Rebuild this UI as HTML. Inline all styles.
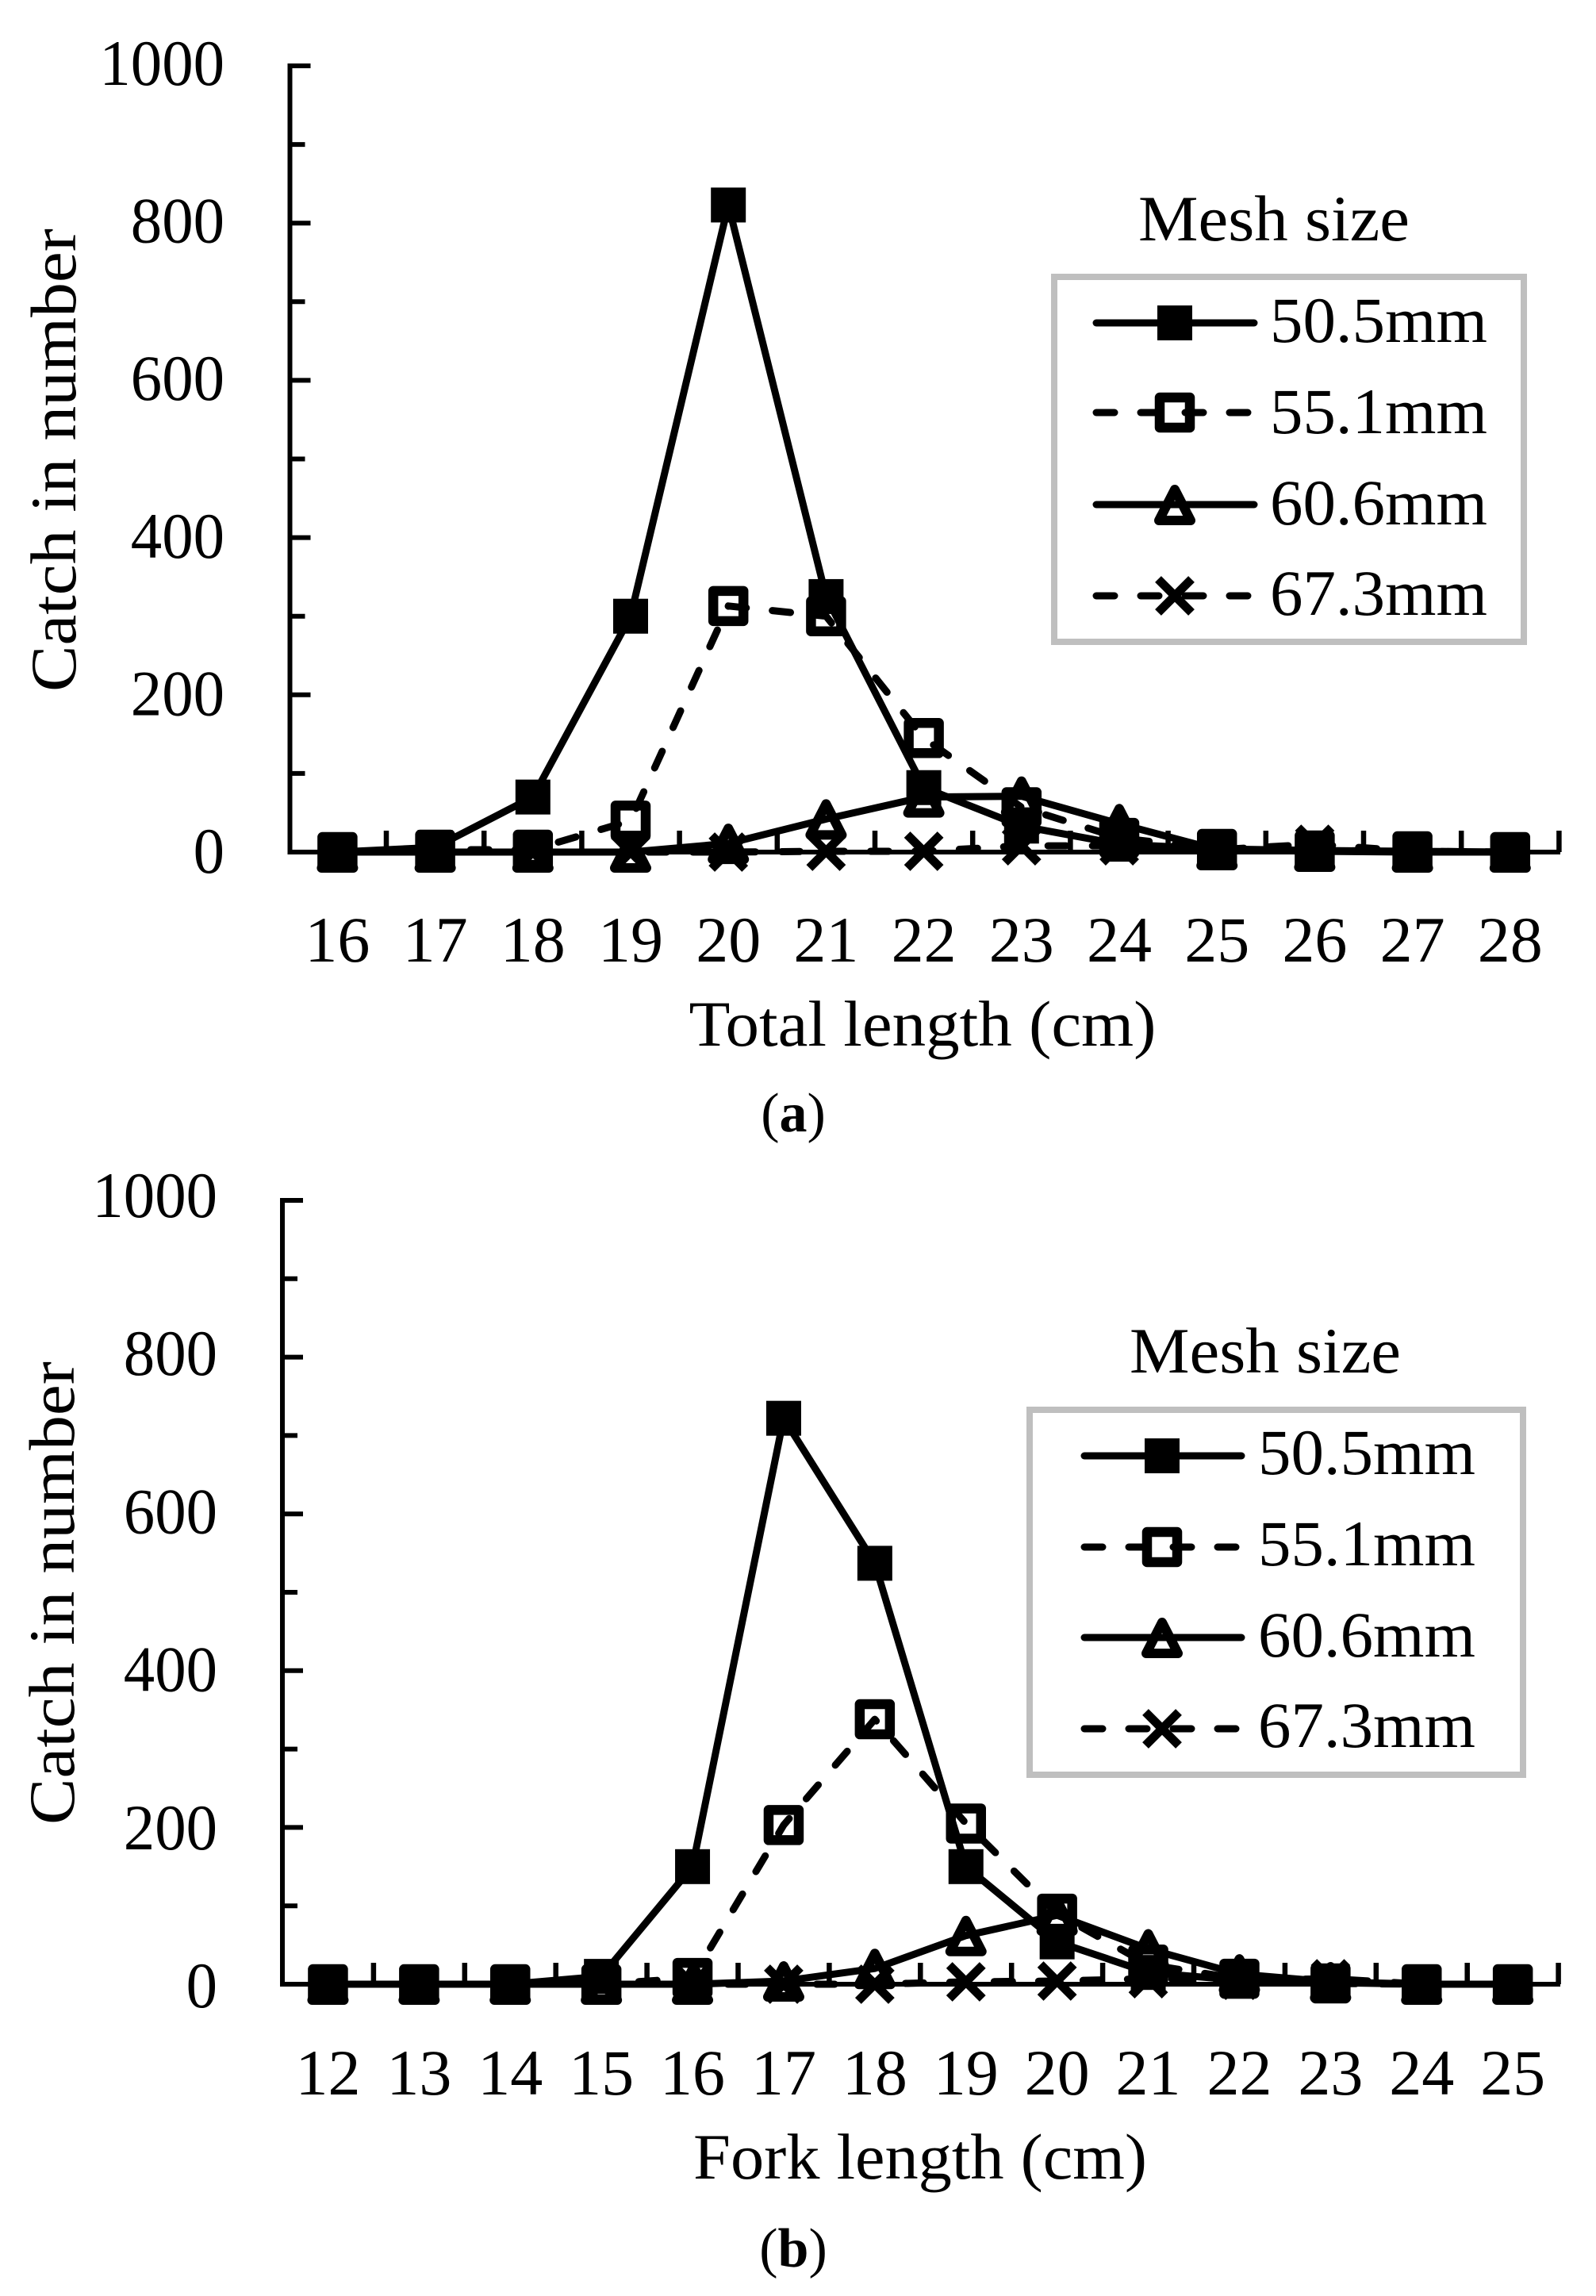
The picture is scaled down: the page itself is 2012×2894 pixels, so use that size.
<!DOCTYPE html>
<html>
<head>
<meta charset="utf-8">
<title>Catch in number by length and mesh size</title>
<style>
html,body{margin:0;padding:0;background:#fff;}
svg{display:block;}
text{font-family:"Liberation Serif",serif;fill:#000;}
</style>
</head>
<body>
<svg id="figure" xmlns="http://www.w3.org/2000/svg" width="2012" height="2894" viewBox="0 0 2012 2894"></svg>
<script>
const categoriesA = [16,17,18,19,20,21,22,23,24,25,26,27,28];
const mesh505A = [0,6,70,300,823,325,82,33,10,4,2,1,0];
const mesh551A = [0,3,3,40,313,300,145,57,18,4,2,1,0];
const mesh606A = [0,0,0,0,11,42,70,71,36,3,1,0,0];
const mesh673A = [0,0,0,0,0,1,1,8,8,3,10,1,0];

const categoriesB = [12,13,14,15,16,17,18,19,20,21,22,23,24,25];
const mesh505B = [0,0,0,10,150,722,537,150,54,15,5,2,0,0];
const mesh551B = [0,0,0,0,8,203,338,205,90,25,7,1,0,0];
const mesh606B = [0,0,0,0,0,4,20,62,88,45,13,3,0,0];
const mesh673B = [0,0,0,0,0,0,0,3,4,7,5,7,0,0];

const yMajorTicks = [0,200,400,600,800,1000];
const yMinorTicks = [100,300,500,700,900];
const legendLabels = ["50.5mm","55.1mm","60.6mm","67.3mm"];
const seriesKinds = ["filled-square","open-square","open-triangle","cross"];

const NS = "http://www.w3.org/2000/svg";
const root = document.getElementById("figure");

function make(parent, tag, attrs) {
  const el = document.createElementNS(NS, tag);
  for (const k in attrs) el.setAttribute(k, attrs[k]);
  parent.appendChild(el);
  return el;
}

function drawMarker(parent, kind, x, y) {
  const g = make(parent, "g", { transform: "translate(" + x + "," + y + ")" });
  
  
  if (kind === "filled-square") {
    make(g, "rect", { x: -22, y: -22, width: 44, height: 44, fill: "#000" });
  } else if (kind === "open-square") {
    make(g, "rect", { x: -19, y: -19, width: 38, height: 38, fill: "none", stroke: "#000", "stroke-width": 12.5, "stroke-linejoin": "round" });
  } else if (kind === "open-triangle") {
    make(g, "path", { d: "M0,-19L20,20L-20,20Z", fill: "none", stroke: "#000", "stroke-width": 12, "stroke-linejoin": "round" });
  } else {
    make(g, "path", { d: "M-21,-21L21,21M21,-21L-21,21", fill: "none", stroke: "#000", "stroke-width": 11 });
  }
}

function styleLine(el, index) {
  el.setAttribute("fill", "none");
  el.setAttribute("stroke", "#000");
  el.setAttribute("stroke-width", "9");
  el.setAttribute("stroke-linecap", "round");
  el.setAttribute("stroke-linejoin", "round");
  if (index % 2 === 1) el.setAttribute("stroke-dasharray", "23 33");
}

function drawText(parent, str, x, y, size, anchor, fit) {
  const t = make(parent, "text", { x: x, y: y, "font-size": size, "text-anchor": anchor });
  if (fit) {
    t.setAttribute("textLength", fit);
    t.setAttribute("lengthAdjust", "spacingAndGlyphs");
  }
  t.textContent = str;
  return t;
}

function drawChart(cfg) {
  const chart = make(root, "g", {});
  
  

  const band = (cfg.bandRight - cfg.bandLeft) / cfg.categories.length;
  const xScale = function (i) { return cfg.bandLeft + (i + 0.5) * band; };
  const yScale = function (v) { return cfg.y0 - (v / 1000) * (cfg.y0 - cfg.y1000); };
  const yLabelScale = function (v) { return cfg.labelBase0 - (v / 1000) * (cfg.labelBase0 - cfg.labelBase1000); };

  // axes
  const axes = make(chart, "g", { stroke: "#000", fill: "none" });
  
  

  const yAxis = make(axes, "line", { x1: cfg.axisLeft, x2: cfg.axisLeft, y1: cfg.y1000 - 3, y2: cfg.y0 + 3, "stroke-width": 6 });
  
  

  yMajorTicks.forEach(function (v) {
    const y = yScale(v);
    if (v > 0) {
      const tick = make(axes, "line", { x1: cfg.axisLeft, x2: cfg.axisLeft + 26, y1: y, y2: y, "stroke-width": 6 });
      
      
    }
    const str = String(v);
    const label = drawText(chart, str, cfg.yLabelRight, yLabelScale(v), 82, "end", str.length * 39.4);
    
    
  });

  yMinorTicks.forEach(function (v) {
    const y = yScale(v);
    const tick = make(axes, "line", { x1: cfg.axisLeft, x2: cfg.axisLeft + 19, y1: y, y2: y, "stroke-width": 6 });
    
    
  });

  const xAxis = make(axes, "line", { x1: cfg.axisLeft - 3, x2: cfg.axisRight, y1: cfg.y0, y2: cfg.y0, "stroke-width": 6 });
  
  

  for (let i = 1; i <= cfg.categories.length; i++) {
    const x = cfg.bandLeft + i * band;
    const tick = make(axes, "line", { x1: x, x2: x, y1: cfg.y0, y2: cfg.y0 - 27, "stroke-width": 6.5 });
    
    
  }

  cfg.categories.forEach(function (c, i) {
    const label = drawText(chart, String(c), xScale(i), cfg.xLabelBaseline, 82, "middle");
    
    
  });

  // series
  cfg.series.forEach(function (values, s) {
    const g = make(chart, "g", {});
    
    
    const d = values.map(function (v, i) {
      return (i ? "L" : "M") + xScale(i).toFixed(1) + "," + yScale(v).toFixed(1);
    }).join("");
    const line = make(g, "path", { d: d });
    styleLine(line, s);
    
    
    values.forEach(function (v, i) {
      drawMarker(g, seriesKinds[s], xScale(i), yScale(v));
    });
  });

  // axis titles
  const yTitle = drawText(chart, "Catch in number", cfg.yTitleX, cfg.yTitleY, 82, "middle", cfg.yTitleLen);
  yTitle.setAttribute("transform", "rotate(-90 " + cfg.yTitleX + " " + cfg.yTitleY + ")");
  
  

  const xTitle = drawText(chart, cfg.xTitle, cfg.xTitleX, cfg.xTitleY, 82, "middle", cfg.xTitleLen);
  
  

  // caption
  const cap = make(chart, "text", { x: cfg.capX, y: cfg.capY, "font-size": 70, "text-anchor": "middle" });
  
  
  cap.appendChild(document.createTextNode("("));
  const bold = make(cap, "tspan", { "font-weight": "bold" });
  bold.textContent = cfg.capLetter;
  cap.appendChild(document.createTextNode(")"));

  // legend
  const lg = cfg.legend;
  const legend = make(chart, "g", {});
  
  

  const lgTitle = drawText(legend, "Mesh size", lg.titleX, lg.titleY, 82, "middle", lg.titleLen);
  
  

  const box = make(legend, "rect", { x: lg.left + 4, y: lg.top + 4, width: lg.right - lg.left - 8, height: lg.bottom - lg.top - 8, fill: "#fff", stroke: "#bfbfbf", "stroke-width": 8 });
  
  

  legendLabels.forEach(function (label, s) {
    const entry = make(legend, "g", {});
    
    
    const y = lg.rowY[s];
    const key = make(entry, "line", { x1: lg.lineLeft + 4, x2: lg.lineRight - 4, y1: y, y2: y });
    styleLine(key, s);
    
    
    drawMarker(entry, seriesKinds[s], lg.markerX, y);
    const t = drawText(entry, label, lg.textX, lg.textY[s], 82, "start", lg.textLen);
    
    
  });
}

drawChart({
  name: "chart-total-length",
  categories: categoriesA,
  series: [mesh505A, mesh551A, mesh606A, mesh673A],
  axisLeft: 365.5, axisRight: 1967, bandLeft: 363.8, bandRight: 1965.4, y0: 1074, y1000: 83,
  yLabelRight: 283, labelBase1000: 107, labelBase0: 1100, xLabelBaseline: 1212,
  xTitle: "Total length (cm)", xTitleX: 1163, xTitleY: 1318, xTitleLen: 589,
  yTitleX: 95, yTitleY: 580, yTitleLen: 584,
  capX: 1000, capY: 1426, capLetter: "a",
  legend: {
    titleX: 1606, titleY: 303, titleLen: 342,
    left: 1325, right: 1925, top: 345, bottom: 813,
    lineLeft: 1378, lineRight: 1585, markerX: 1481,
    rowY: [407, 520, 636, 751],
    textX: 1601, textLen: 274,
    textY: [431, 546, 661, 775]
  }
});

drawChart({
  name: "chart-fork-length",
  categories: categoriesB,
  series: [mesh505B, mesh551B, mesh606B, mesh673B],
  axisLeft: 356, axisRight: 1967, bandLeft: 356, bandRight: 1964.6, y0: 2501, y1000: 1513,
  yLabelRight: 274, labelBase1000: 1534, labelBase0: 2530, xLabelBaseline: 2640,
  xTitle: "Fork length (cm)", xTitleX: 1160, xTitleY: 2746, xTitleLen: 572,
  yTitleX: 93, yTitleY: 2008, yTitleLen: 584,
  capX: 1000, capY: 2857, capLetter: "b",
  legend: {
    titleX: 1595, titleY: 1730, titleLen: 342,
    left: 1294, right: 1924, top: 1773, bottom: 2241,
    lineLeft: 1363, lineRight: 1569, markerX: 1465,
    rowY: [1835, 1950, 2064, 2179],
    textX: 1586, textLen: 274,
    textY: [1858, 1973, 2088, 2202]
  }
});
</script>
</body>
</html>
